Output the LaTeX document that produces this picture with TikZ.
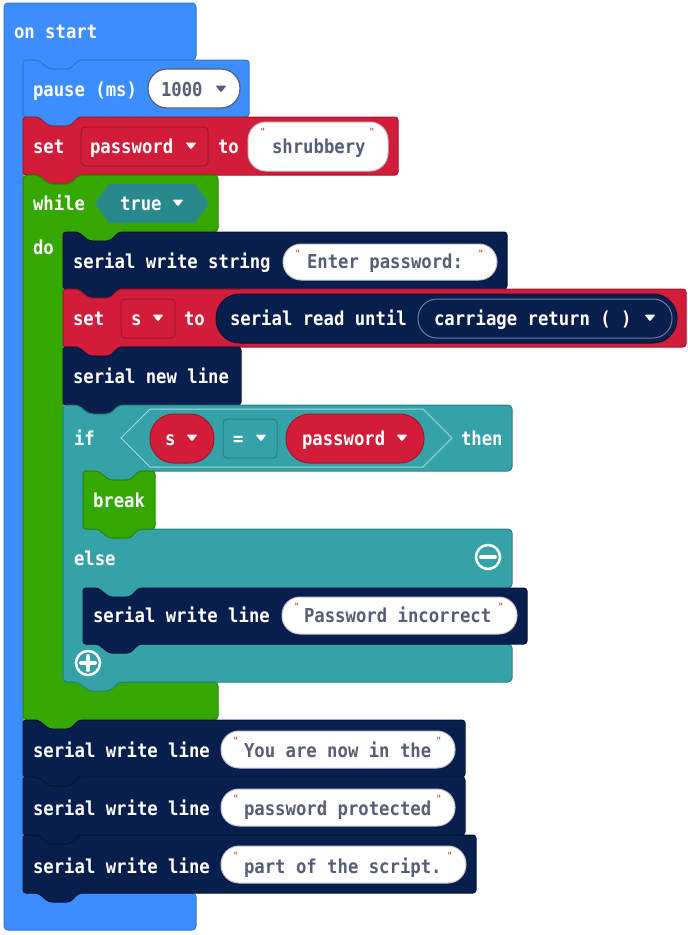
\documentclass[tikz,border=0pt]{standalone}
\usepackage{fontspec}
\newfontfamily\mcfont{DejaVu Sans Mono}[FakeStretch=0.9]
\newfontfamily\qfont{DejaVu Sans Mono}
\definecolor{cblue}{RGB}{60,142,255}
\definecolor{cblueD}{RGB}{45,115,215}
\definecolor{cred}{RGB}{209,29,57}
\definecolor{credD}{RGB}{165,20,42}
\definecolor{cgreen}{RGB}{52,168,0}
\definecolor{cgreenD}{RGB}{40,135,0}
\definecolor{cnavy}{RGB}{8,31,77}
\definecolor{cnavyD}{RGB}{4,20,55}
\definecolor{cteal}{RGB}{52,162,167}
\definecolor{ctealD}{RGB}{38,128,133}
\definecolor{ctrue}{RGB}{41,136,140}
\definecolor{chexL}{RGB}{165,218,218}
\definecolor{strgray}{RGB}{87,94,117}
\definecolor{quotec}{RGB}{175,60,35}
\definecolor{ovalB}{RGB}{195,195,202}
\definecolor{numB}{RGB}{90,90,120}
\definecolor{innerB}{RGB}{110,125,160}
\tikzset{
  lbl/.style={anchor=base west, inner sep=0pt, outer sep=0pt, text=white,
    font=\mcfont\bfseries\fontsize{19.2}{22}\selectfont},
  strtxt/.style={lbl, text=strgray},
  qt/.style={anchor=north, inner sep=0pt, text=quotec,
    font=\qfont\fontsize{10}{12}\selectfont},
  blk/.style={line width=1pt, rounded corners=3pt},
}
% stack block: L T R B fill draw
\newcommand\stackblk[6]{%
  \draw[blk, fill=#5, draw=#6]
  (#1,#2) -- (#1+15,#2) -- (#1+26,#2+9) -- (#1+47,#2+9) -- (#1+56,#2) -- (#3,#2)
  -- (#3,#4) -- (#1+56,#4) -- (#1+47,#4+9) -- (#1+26,#4+9) -- (#1+15,#4) -- (#1,#4) -- cycle;}
% string oval: L T R B
\newcommand\strov[4]{%
  \draw[fill=white, draw=ovalB, line width=1pt, rounded corners=18pt] (#1,#2) rectangle (#3,#4);
  \node[qt] at (#1+15,#2+6) {"};
  \node[qt] at (#3-16,#2+6) {"};}
% dropdown triangle: x y colour
\newcommand\ddtri[3]{%
  \fill[#3, rounded corners=1pt] (#1-5.5,#2-3.5) -- (#1+5.5,#2-3.5) -- (#1,#2+3.5) -- cycle;}
\begin{document}
\begin{tikzpicture}[x=1pt,y=-1pt]
\useasboundingbox (0,0) rectangle (688,935);

% ---------- on start hat ----------
\draw[fill=cblue, draw=cblueD, line width=1pt, rounded corners=4pt]
  (4,3) -- (196,3) -- (196,60) -- (79,60) -- (70,69) -- (49,69) -- (38,60) -- (23,60)
  -- (23,893) -- (196,893) -- (196,930) -- (4,930) -- cycle;
\node[lbl] (onstart) at (14,38) {on start};

% ---------- pause ----------
\stackblk{23}{60}{249}{117}{cblue}{cblueD}
\node[lbl] (pause) at (33,96) {pause (ms)};
\draw[fill=white, draw=numB, line width=1.2pt, rounded corners=19pt] (148,69) rectangle (240,108);
\node[strtxt] (ms) at (161,96) {1000};
\ddtri{221}{89}{strgray}

% ---------- set password ----------
\stackblk{23}{117}{398}{175}{cred}{credD}
\node[lbl] (set1) at (33,153) {set};
\draw[fill=cred, draw=credD, line width=1pt, rounded corners=4pt] (81,127) rectangle (208,166);
\node[lbl] (pwvar) at (90,153) {password};
\ddtri{191}{146}{white}
\node[lbl] (to1) at (218,153) {to};
\strov{248}{122}{388}{171}
\node[strtxt] (shrub) at (272,153) {shrubbery};

% ---------- while ----------
\draw[fill=cgreen, draw=cgreenD, line width=1pt, rounded corners=4pt]
  (23,175) -- (38,175) -- (49,184) -- (70,184) -- (79,175) -- (218,175) -- (218,232)
  -- (119,232) -- (110,241) -- (89,241) -- (78,232) -- (63,232) -- (63,682)
  -- (218,682) -- (218,720) -- (79,720) -- (70,729) -- (49,729) -- (38,720) -- (23,720) -- cycle;
\node[lbl] (while) at (33,210) {while};
\fill[ctrue] (95,203.5) -- (109,184) -- (195,184) -- (209,203.5) -- (195,223) -- (109,223) -- cycle;
\node[lbl] (true) at (120,210) {true};
\ddtri{178}{203}{white}
\node[lbl] (do) at (33,254) {do};

% ---------- serial write string ----------
\stackblk{63}{232}{507}{289}{cnavy}{cnavyD}
\node[lbl] (sws) at (73,268) {serial write string};
\strov{283}{244}{497}{280}
\node[strtxt] (enter) at (307,268) {Enter password:\ };

% ---------- set s ----------
\stackblk{63}{289}{686}{347}{cred}{credD}
\node[lbl] (set2) at (73,325) {set};
\draw[fill=cred, draw=credD, line width=1pt, rounded corners=4pt] (121,299) rectangle (175,338);
\node[lbl] (svar) at (131,325) {s};
\ddtri{158}{318}{white}
\node[lbl] (to2) at (184,325) {to};
\draw[fill=cnavy, draw=cnavyD, line width=1pt, rounded corners=24pt] (216,294) rectangle (677,343);
\node[lbl] (sru) at (230,325) {serial read until};
\draw[fill=cnavy, draw=innerB, line width=1pt, rounded corners=19pt] (418,299) rectangle (672,338);
\node[lbl] (cr) at (434,325) {carriage return ( )};
\ddtri{650}{318}{white}

% ---------- serial new line ----------
\stackblk{63}{347}{241}{405}{cnavy}{cnavyD}
\node[lbl] (snl) at (73,383) {serial new line};

% ---------- if / else ----------
\draw[fill=cteal, draw=ctealD, line width=1pt, rounded corners=4pt]
  (63,405) -- (78,405) -- (89,414) -- (110,414) -- (119,405) -- (512,405) -- (512,471)
  -- (139,471) -- (130,480) -- (109,480) -- (98,471) -- (83,471) -- (83,529)
  -- (512,529) -- (512,588) -- (139,588) -- (130,597) -- (109,597) -- (98,588) -- (83,588)
  -- (83,644) -- (512,644) -- (512,682) -- (119,682) -- (110,691) -- (89,691) -- (78,682)
  -- (63,682) -- cycle;
\node[lbl] (if) at (74,445) {if};
\draw[fill=cteal, draw=chexL, line width=1pt]
  (121,438) -- (150,409) -- (423,409) -- (452,438) -- (423,467) -- (150,467) -- cycle;
\draw[fill=cred, draw=credD, line width=1pt, rounded corners=24pt] (150,414) rectangle (214,463);
\node[lbl] (s2) at (165,445) {s};
\ddtri{192}{438}{white}
\draw[fill=cteal, draw=ctealD, line width=1pt, rounded corners=4pt] (223,419) rectangle (277,458);
\node[lbl] (eq) at (233,445) {=};
\ddtri{261}{438}{white}
\draw[fill=cred, draw=credD, line width=1pt, rounded corners=24pt] (286,414) rectangle (424,463);
\node[lbl] (pw2) at (302,445) {password};
\ddtri{402}{438}{white}
\node[lbl] (then) at (461,445) {then};

\stackblk{83}{471}{155}{529}{cgreen}{cgreenD}
\node[lbl] (break) at (93,507) {break};

\node[lbl] (else) at (74,565) {else};
\draw[white, line width=2.5pt] (488,557) circle[radius=12pt];
\draw[white, line width=4pt, line cap=round] (481,557) -- (495,557);

\stackblk{83}{588}{527}{644}{cnavy}{cnavyD}
\node[lbl] (swl0) at (93,622) {serial write line};
\strov{282}{597}{517}{634}
\node[strtxt] (inc) at (304,622) {Password incorrect};

\draw[white, line width=2.5pt] (88,663) circle[radius=12pt];
\draw[white, line width=4pt, line cap=round] (81,663) -- (95,663);
\draw[white, line width=4pt, line cap=round] (88,656) -- (88,670);

% ---------- final serial write lines ----------
\stackblk{23}{720}{465}{777}{cnavy}{cnavyD}
\node[lbl] (swl1) at (33,757) {serial write line};
\strov{221}{731}{455}{768}
\node[strtxt] (t1) at (244,757) {You are now in the};

\stackblk{23}{777}{465}{835}{cnavy}{cnavyD}
\node[lbl] (swl2) at (33,815) {serial write line};
\strov{221}{789}{455}{826}
\node[strtxt] (t2) at (244,815) {password protected};

\stackblk{23}{835}{476}{893}{cnavy}{cnavyD}
\node[lbl] (swl3) at (33,873) {serial write line};
\strov{221}{846}{466}{883}
\node[strtxt] (t3) at (244,873) {part of the script.};
\end{tikzpicture}
\end{document}
